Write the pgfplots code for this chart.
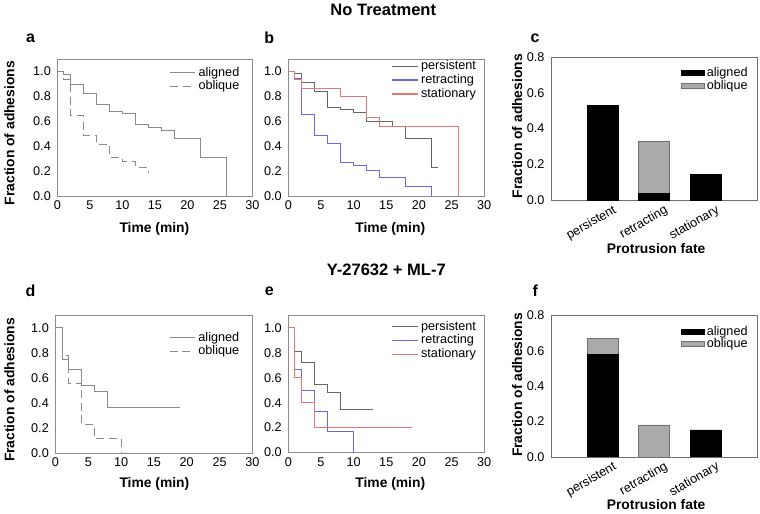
\documentclass[border=0pt]{standalone}
\usepackage{fontspec}
\setmainfont{Liberation Sans}
\usepackage{pgfplots}
\pgfplotsset{compat=1.18}
\definecolor{axgray}{HTML}{8C8C8C}
\definecolor{axdark}{HTML}{707070}
\definecolor{kmgray}{HTML}{8A8A8A}
\definecolor{pers}{HTML}{666666}
\definecolor{retr}{HTML}{6A6ADC}
\definecolor{stat}{HTML}{E37878}
\definecolor{obl}{HTML}{AAAAAA}

\pgfplotsset{
  base/.style={scale only axis,
    axis line style={axgray}, major tick length=0pt,
    xtick pos=left, ytick pos=left,
    tick label style={font=\fontsize{9.5}{11}\selectfont},
    yticklabel style={xshift=-1.5pt},
    /pgf/number format/assume math mode=true,
    yticklabel style={/pgf/number format/.cd,fixed,fixed zerofill,precision=1},
    legend style={draw=none,fill=none,font=\fontsize{9.5}{11}\selectfont,
      row sep=-2pt,inner sep=1pt},
    legend cell align=left},
  km/.style={base, xmin=0, xmax=30, ymin=0, ymax=1.1,
    xtick={0,5,10,15,20,25,30}, ytick={0,0.2,0.4,0.6,0.8,1.0},
    every axis plot/.append style={const plot, line width=0.75pt}},
  kmleg/.style={legend image code/.code={\draw[##1,line width=1pt] (0pt,0pt) -- (#1,0pt);}},
  bars/.style={base, axis line style={axdark},
    ybar stacked, bar width=0.6, xmin=0, xmax=4, ymin=0, ymax=0.8,
    xtick={1,2,3}, xticklabels={persistent,retracting,stationary},
    xticklabel style={rotate=30,anchor=north east,inner sep=1pt,xshift=6pt,yshift=-5pt},
    ytick={0,0.2,0.4,0.6,0.8},
    legend style={row sep=-3pt,at={(0.975,0.955)},anchor=north east}},
  barleg/.style={legend image code/.code={\draw[##1] (0pt,-1.9pt) rectangle (17pt,1.9pt);}},
}
\tikzset{axlab/.style={font=\bfseries\fontsize{10.4}{12}\selectfont}}

\begin{document}
\begin{tikzpicture}
\path (0pt,0pt) rectangle (570pt,382.5pt);

% a
\begin{axis}[km, kmleg=19pt, at={(42.75pt,237pt)}, anchor=south west, width=146.25pt, height=102.75pt,
  legend style={at={(0.955,0.975)},anchor=north east}]
\addplot[kmgray] coordinates {(0,1)(1,0.976)(2,0.898)(4,0.825)(6,0.737)(8,0.68)(10,0.661)(12,0.573)(14,0.551)(16,0.524)(18,0.462)(22,0.306)(26,0)};
\addlegendentry{aligned}
\addplot[kmgray,dash pattern=on 6pt off 3.5pt] coordinates {(0,1)(1,0.94)(2,0.645)(4,0.484)(6,0.417)(8,0.312)(10,0.274)(12,0.231)(14,0.183)};
\addlegendentry{oblique}
\end{axis}

% b
\begin{axis}[km, kmleg=19pt, at={(216pt,237pt)}, anchor=south west, width=147pt, height=102.75pt,
  legend style={at={(0.98,1.02)},anchor=north east}]
\addplot[pers] coordinates {(0,1)(1,0.981)(2,0.915)(4,0.84)(6,0.715)(8,0.699)(10,0.672)(12,0.60)(16,0.56)(18,0.464)(22,0.229)(23,0.229)};
\addlegendentry{persistent}
\addplot[retr] coordinates {(0,1)(1,0.947)(2,0.656)(4,0.483)(6,0.421)(8,0.269)(10,0.243)(12,0.203)(14,0.152)(18,0.075)(22,0)};
\addlegendentry{retracting}
\addplot[stat] coordinates {(0,1)(1,0.936)(2,0.867)(8,0.80)(12,0.632)(14,0.555)(26,0)};
\addlegendentry{stationary}
\end{axis}

% c
\begin{axis}[bars, at={(413.25pt,233.775pt)}, anchor=south west, width=154.5pt, height=107.7pt]
\addplot[barleg, fill=black, draw=black] coordinates {(1,0.53)(2,0.04)(3,0.145)};
\addlegendentry{aligned}
\addplot[barleg, fill=obl, draw=axdark] coordinates {(1,0)(2,0.292)(3,0)};
\addlegendentry{oblique}
\end{axis}

% d
\begin{axis}[km, kmleg=19pt, at={(41.25pt,44.25pt)}, anchor=south west, width=147.75pt, height=103.3pt,
  legend style={at={(0.955,0.91)},anchor=north east}]
\addplot[kmgray] coordinates {(0,1)(1,0.747)(2,0.665)(4,0.54)(6,0.487)(8,0.364)(19,0.364)};
\addlegendentry{aligned}
\addplot[kmgray,dash pattern=on 6pt off 3.5pt] coordinates {(0,1)(1,0.777)(2,0.556)(4,0.223)(6,0.112)(10,0)};
\addlegendentry{oblique}
\end{axis}

% e
\begin{axis}[km, kmleg=19pt, at={(216pt,44.475pt)}, anchor=south west, width=147pt, height=103pt,
  legend style={at={(0.98,0.99)},anchor=north east}]
\addplot[pers] coordinates {(0,1)(1,0.814)(2,0.726)(4,0.545)(6,0.484)(8,0.346)(13,0.346)};
\addlegendentry{persistent}
\addplot[retr] coordinates {(0,1)(1,0.665)(2,0.5)(4,0.332)(6,0.168)(10,0)};
\addlegendentry{retracting}
\addplot[stat] coordinates {(0,1)(1,0.601)(2,0.40)(4,0.2)(19,0.2)};
\addlegendentry{stationary}
\end{axis}

% f
\begin{axis}[bars, at={(413.25pt,41.25pt)}, anchor=south west, width=154.5pt, height=106.3pt]
\addplot[barleg, fill=black, draw=black] coordinates {(1,0.58)(2,0)(3,0.152)};
\addlegendentry{aligned}
\addplot[barleg, fill=obl, draw=axdark] coordinates {(1,0.088)(2,0.181)(3,0)};
\addlegendentry{oblique}
\end{axis}

\begin{scope}[x=0.75pt,y=0.75pt]
% titles
\node[font=\bfseries\fontsize{12.4}{14}\selectfont] at (383,502) {No Treatment};
\node[font=\bfseries\fontsize{12.4}{14}\selectfont] at (386,242) {Y-27632 + ML-7};
% panel letters
\begin{scope}[font=\bfseries\fontsize{12}{14}\selectfont]
\node at (30,474) {a};
\node at (269,474) {b};
\node at (535,474) {c};
\node at (30,221) {d};
\node at (269,221) {e};
\node at (535,221) {f};
\end{scope}
% axis labels
\begin{scope}[axlab]
\node[rotate=90] at (9,379) {Fraction of adhesions};
\node[rotate=90] at (517,386) {Fraction of adhesions};
\node[rotate=90] at (9,122) {Fraction of adhesions};
\node[rotate=90] at (517,127) {Fraction of adhesions};
\node at (154,283) {Time (min)};
\node at (390,283) {Time (min)};
\node at (656,263) {Protrusion fate};
\node at (154,28) {Time (min)};
\node at (390,28) {Time (min)};
\node at (656,7.5) {Protrusion fate};
\end{scope}
\end{scope}
\end{tikzpicture}
\end{document}
